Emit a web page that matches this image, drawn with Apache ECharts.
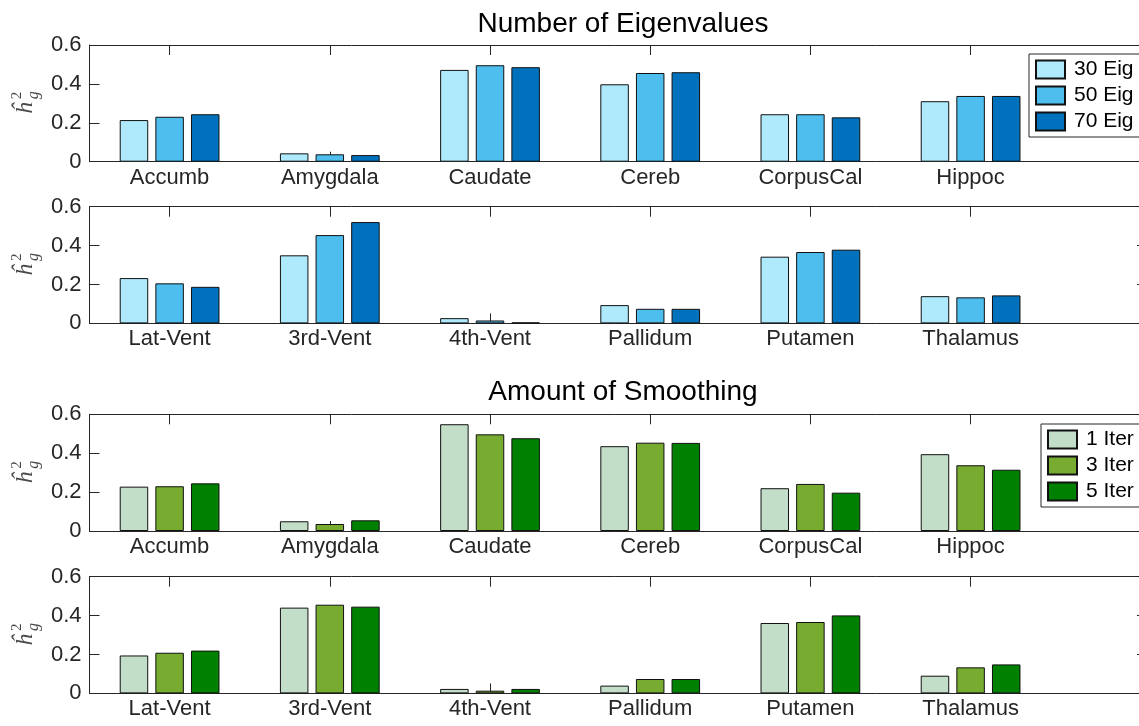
<!DOCTYPE html>
<html>
<head>
<meta charset="utf-8">
<title>Heritability by region</title>
<script src="https://cdn.jsdelivr.net/npm/echarts@6/dist/echarts.min.js"></script>
<style>
  html, body { margin: 0; padding: 0; background: #ffffff; }
  #chart { width: 1139px; height: 726px; }
</style>
</head>
<body>
<div id="chart"></div>
<script>
// Brain regions, split over two rows of panels
const regionsTop = ['Accumb', 'Amygdala', 'Caudate', 'Cereb', 'CorpusCal', 'Hippoc'];
const regionsBottom = ['Lat-Vent', '3rd-Vent', '4th-Vent', 'Pallidum', 'Putamen', 'Thalamus'];

// Number of eigenvalues
const eigNames = ['30 Eig', '50 Eig', '70 Eig'];
const eig30Top = [0.214, 0.043, 0.472, 0.398, 0.244, 0.311];
const eig50Top = [0.231, 0.038, 0.496, 0.456, 0.244, 0.338];
const eig70Top = [0.244, 0.034, 0.486, 0.460, 0.228, 0.338];
const eig30Bottom = [0.233, 0.350, 0.027, 0.094, 0.343, 0.140];
const eig50Bottom = [0.206, 0.454, 0.015, 0.075, 0.367, 0.134];
const eig70Bottom = [0.188, 0.521, 0.005, 0.075, 0.379, 0.144];

// Amount of smoothing
const iterNames = ['1 Iter', '3 Iter', '5 Iter'];
const iter1Top = [0.228, 0.050, 0.549, 0.436, 0.220, 0.395];
const iter3Top = [0.230, 0.036, 0.497, 0.454, 0.242, 0.338];
const iter5Top = [0.245, 0.055, 0.477, 0.453, 0.197, 0.315];
const iter1Bottom = [0.195, 0.441, 0.023, 0.040, 0.362, 0.091];
const iter3Bottom = [0.209, 0.456, 0.014, 0.074, 0.367, 0.134];
const iter5Bottom = [0.220, 0.446, 0.023, 0.074, 0.401, 0.149];

const yTicks = { min: 0, max: 0.6, interval: 0.2 };

const eigColors = ['#aeeafc', '#4dbeee', '#0072bd'];
const iterColors = ['#c2dec8', '#77ac30', '#008000'];

const FONT = '"Liberation Sans", Arial, Helvetica, sans-serif';
const SERIF = '"Liberation Serif", "DejaVu Serif", serif';
const AX = '#262626';
const TICK_LEN = 10;

// panel layout: top edge of each axes box
const panelTops = [45, 206.7, 414.3, 576.7];
const panelH = 116.7;
const plotLeft = 89.5;
const canvasW = 1139;
const catStep = 160.2;              // pixels per region slot
const plotWidth = canvasW - plotLeft;
const xMin = 0.5;                   // regions sit at 1..6
const xMax = xMin + plotWidth / catStep;
const rightOverhang = 8;            // right edge of the box sits just past the canvas

const panels = [
  { cats: regionsTop,    names: eigNames,  colors: eigColors,  data: [eig30Top, eig50Top, eig70Top] },
  { cats: regionsBottom, names: eigNames,  colors: eigColors,  data: [eig30Bottom, eig50Bottom, eig70Bottom] },
  { cats: regionsTop,    names: iterNames, colors: iterColors, data: [iter1Top, iter3Top, iter5Top] },
  { cats: regionsBottom, names: iterNames, colors: iterColors, data: [iter1Bottom, iter3Bottom, iter5Bottom] }
];

const grid = [], xAxis = [], yAxis = [], series = [], graphic = [];

panels.forEach((p, i) => {
  grid.push({ left: plotLeft, top: panelTops[i], width: plotWidth, height: panelH });
  const lineOn = { show: true, onZero: false, lineStyle: { color: AX, width: 1 } };
  const pos = p.cats.map((_, k) => k + 1);
  const tickIn = { show: true, inside: true, length: TICK_LEN, customValues: pos, lineStyle: { color: AX, width: 1 } };
  // bottom axis: region names under each group
  xAxis.push({
    type: 'value', gridIndex: i, position: 'bottom', min: xMin, max: xMax,
    axisLine: lineOn, axisTick: tickIn,
    axisLabel: {
      show: true, customValues: pos, color: AX, fontSize: 22, fontFamily: FONT, margin: 5,
      showMinLabel: true, showMaxLabel: true, hideOverlap: false,
      formatter: (v) => p.cats[Math.round(v) - 1] || ''
    },
    splitLine: { show: false }
  });
  // top edge of the box
  xAxis.push({
    type: 'value', gridIndex: i, position: 'top', min: xMin, max: xMax,
    axisLine: lineOn, axisTick: tickIn, axisLabel: { show: false }, splitLine: { show: false }
  });
  // left value axis
  yAxis.push({
    type: 'value', gridIndex: i, position: 'left',
    min: yTicks.min, max: yTicks.max, interval: yTicks.interval,
    axisLine: lineOn,
    axisTick: { show: true, inside: true, length: TICK_LEN, lineStyle: { color: AX, width: 1 } },
    axisLabel: { show: true, color: AX, fontSize: 22, fontFamily: FONT, margin: 8 },
    splitLine: { show: false }
  });
  // right edge ticks
  yAxis.push({
    type: 'value', gridIndex: i, position: 'right', offset: rightOverhang,
    min: yTicks.min, max: yTicks.max, interval: yTicks.interval,
    axisLine: lineOn,
    axisTick: { show: true, inside: true, length: TICK_LEN, lineStyle: { color: AX, width: 1 } },
    axisLabel: { show: false },
    splitLine: { show: false }
  });

  p.data.forEach((vals, k) => {
    series.push({
      type: 'bar', name: p.names[k],
      xAxisIndex: i * 2, yAxisIndex: i * 2,
      data: vals.map((v, j) => [pos[j], v]),
      barWidth: 28.5, barGap: '25%',
      itemStyle: { color: p.colors[k], borderColor: '#111', borderWidth: 1 },
      emphasis: { disabled: true }
    });
  });

  // y-axis label: h-hat with superscript 2 and subscript g, rotated
  const mid = panelTops[i] + panelH / 2;
  graphic.push({
    type: 'group', x: 26, y: mid, rotation: Math.PI / 2,
    children: [
      { type: 'text', x: -5, y: 0,
        style: { text: 'ĥ', font: 'italic 24px ' + SERIF, fill: '#4a4a4a', align: 'center', verticalAlign: 'middle' } },
      { type: 'text', x: 4, y: -9,
        style: { text: '2', font: '15px ' + SERIF, fill: '#4a4a4a', align: 'left', verticalAlign: 'middle' } },
      { type: 'text', x: 4, y: 8,
        style: { text: 'g', font: 'italic 16px ' + SERIF, fill: '#4a4a4a', align: 'left', verticalAlign: 'middle' } }
    ]
  });
});

const legendBase = {
  orient: 'vertical', itemWidth: 29, itemHeight: 18, itemGap: 5,
  padding: [5, 6, 5, 6], borderColor: AX, borderWidth: 1, backgroundColor: '#fff',
  icon: 'rect',
  textStyle: { fontSize: 21, fontFamily: FONT, color: '#000', padding: [0, 0, 0, 4] },
  selectedMode: false
};

const option = {
  backgroundColor: '#ffffff',
  animation: false,
  title: [
    { text: 'Number of Eigenvalues', left: 618, textAlign: 'center', top: 5,
      textStyle: { fontSize: 28, fontWeight: 'normal', color: '#000', fontFamily: FONT } },
    { text: 'Amount of Smoothing', left: 618, textAlign: 'center', top: 373,
      textStyle: { fontSize: 28, fontWeight: 'normal', color: '#000', fontFamily: FONT } }
  ],
  legend: [
    Object.assign({}, legendBase, { data: eigNames, left: 1029, top: 54 }),
    Object.assign({}, legendBase, { data: iterNames, left: 1041, top: 424 })
  ],
  grid, xAxis, yAxis, series, graphic
};

const chart = echarts.init(document.getElementById('chart'), null, { renderer: 'canvas' });
chart.setOption(option);
</script>
</body>
</html>
